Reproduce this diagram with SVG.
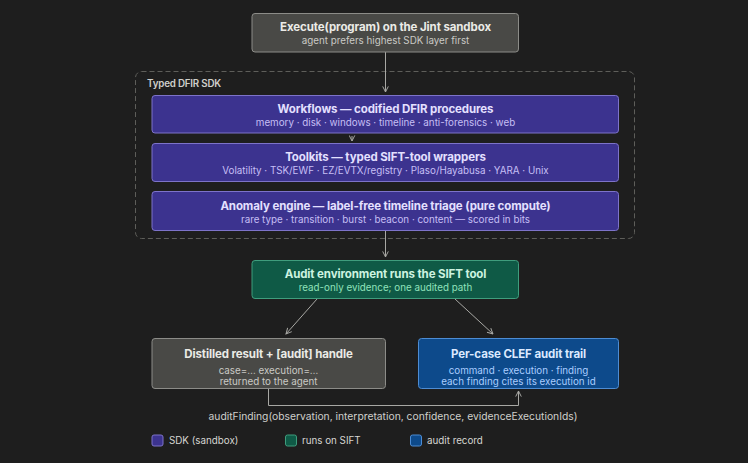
<svg xmlns="http://www.w3.org/2000/svg" width="748" height="463" viewBox="0 0 748 463">
<defs>
<marker id="ah" viewBox="0 0 10 10" refX="9" refY="5" markerWidth="7" markerHeight="7" orient="auto-start-reverse" markerUnits="userSpaceOnUse">
<path d="M1,1 L9,5 L1,9" fill="none" stroke="#a8a8a4" stroke-width="1.4"/>
</marker>
<style>
text{font-family:Inter,"Noto Sans","Liberation Sans",sans-serif;text-anchor:middle}
.t{font-size:11.5px;font-weight:700;letter-spacing:-0.1px}
.s{font-size:9.8px;letter-spacing:0}
.sdk rect{fill:#3c338f;stroke:#7d73c9;stroke-width:1}
.sdk .t{fill:#e4e0ff}.sdk .s{fill:#c6bff5}
.sift rect{fill:#0f5a46;stroke:#3f9d7d;stroke-width:1}
.sift .t{fill:#cdf3e0}.sift .s{fill:#8fe2bb}
.gry rect{fill:#494946;stroke:#8c8c88;stroke-width:1}
.gry .t{fill:#ebebe6}.gry .s{fill:#cacac5}
.aud rect{fill:#0d4a8b;stroke:#4d8cd3;stroke-width:1}
.aud .t{fill:#dbe9ff}.aud .s{fill:#aacdff}
.c{fill:none;stroke:#a8a8a4;stroke-width:1}
.lbl{font-size:10.3px;fill:#cfcfcb}
.leg{font-size:9.8px;fill:#d6d6d2;text-anchor:start}
</style>
</defs>
<rect width="748" height="463" fill="#1e1e1e"/>
<g id="sdk-container">
<rect x="135.5" y="71.5" width="499" height="167" rx="6" fill="none" stroke="#5e5e5a" stroke-width="1" stroke-dasharray="5 3"/>
<text x="147" y="87" style="font-size:9.8px;font-weight:600;fill:#cfcfcb;text-anchor:start;letter-spacing:-0.2px">Typed DFIR SDK</text>
</g>
<g id="connectors">
<path class="c" d="M385.5,52 V92" marker-end="url(#ah)"/>
<path class="c" d="M352,136 V141" marker-end="url(#ah)"/>
<path class="c" d="M385.5,231 V257" marker-end="url(#ah)"/>
<path class="c" d="M317,299 L286,334" marker-end="url(#ah)"/>
<path class="c" d="M455,299 L493,334" marker-end="url(#ah)"/>
<path class="c" d="M268.5,389 V405.5 H518.5 V391" marker-end="url(#ah)"/>
<text class="lbl" x="393" y="419.5">auditFinding(observation, interpretation, confidence, evidenceExecutionIds)</text>
</g>
<g id="execute" class="gry">
<rect x="252" y="13.5" width="266.5" height="38.5" rx="3"/>
<text class="t" x="385.5" y="30.5">Execute(program) on the Jint sandbox</text>
<text class="s" x="385.5" y="44">agent prefers highest SDK layer first</text>
</g>
<g id="workflows" class="sdk">
<rect x="152" y="95.5" width="466.5" height="37.5" rx="3"/>
<text class="t" x="385.5" y="113">Workflows — codified DFIR procedures</text>
<text class="s" x="385.5" y="126">memory · disk · windows · timeline · anti-forensics · web</text>
</g>
<g id="toolkits" class="sdk">
<rect x="152" y="143.5" width="466.5" height="38" rx="3"/>
<text class="t" x="385.5" y="161">Toolkits — typed SIFT-tool wrappers</text>
<text class="s" x="385.5" y="173.5">Volatility · TSK/EWF · EZ/EVTX/registry · Plaso/Hayabusa · YARA · Unix</text>
</g>
<g id="anomaly" class="sdk">
<rect x="152" y="191.5" width="466.5" height="39" rx="3"/>
<text class="t" x="385.5" y="209.5">Anomaly engine — label-free timeline triage (pure compute)</text>
<text class="s" x="385.5" y="222.5">rare type · transition · burst · beacon · content — scored in bits</text>
</g>
<g id="audit-env" class="sift">
<rect x="252" y="260.5" width="266.5" height="38" rx="3"/>
<text class="t" x="385.5" y="277.5">Audit environment runs the SIFT tool</text>
<text class="s" x="385.5" y="290.5">read-only evidence; one audited path</text>
</g>
<g id="distilled" class="gry">
<rect x="152" y="338.5" width="233.5" height="50" rx="3"/>
<text class="t" x="268.5" y="357.5">Distilled result + [audit] handle</text>
<text class="s" x="268.5" y="373.5">case=… execution=…</text>
<text class="s" x="268.5" y="384.5">returned to the agent</text>
</g>
<g id="clef" class="aud">
<rect x="418.5" y="338.5" width="200" height="50" rx="3"/>
<text class="t" x="518.5" y="357.5">Per-case CLEF audit trail</text>
<text class="s" x="518.5" y="373.5">command · execution · finding</text>
<text class="s" x="518.5" y="384.5">each finding cites its execution id</text>
</g>
<g id="legend">
<g class="sdk"><rect x="152" y="435" width="11" height="11" rx="2"/></g>
<text class="leg" x="169" y="444">SDK (sandbox)</text>
<g class="sift"><rect x="285.5" y="435" width="11" height="11" rx="2"/></g>
<text class="leg" x="302" y="444">runs on SIFT</text>
<g class="aud"><rect x="410.5" y="435" width="11" height="11" rx="2"/></g>
<text class="leg" x="427" y="444">audit record</text>
</g>
</svg>
